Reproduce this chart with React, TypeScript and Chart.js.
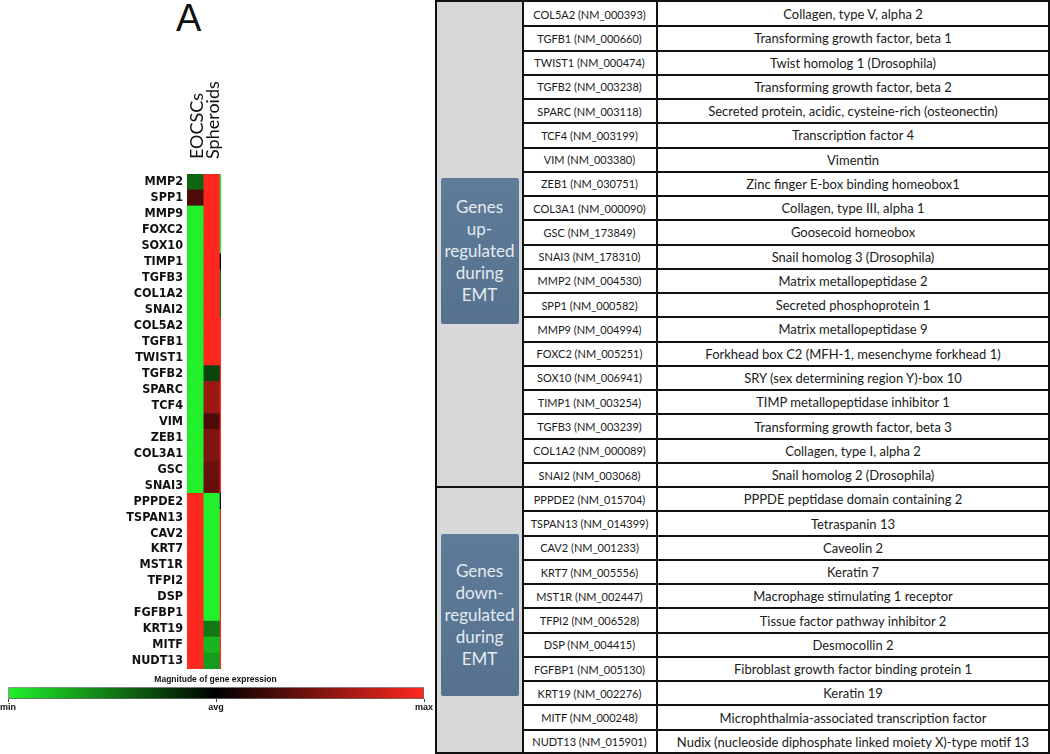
import React, { useEffect, useRef } from 'react';
import { Chart, registerables } from 'chart.js';

Chart.register(...registerables);

// ---------- heatmap data ----------
const heatGenes = [
  'MMP2', 'SPP1', 'MMP9', 'FOXC2', 'SOX10', 'TIMP1', 'TGFB3', 'COL1A2', 'SNAI2',
  'COL5A2', 'TGFB1', 'TWIST1', 'TGFB2', 'SPARC', 'TCF4', 'VIM', 'ZEB1', 'COL3A1', 'GSC', 'SNAI3',
  'PPPDE2', 'TSPAN13', 'CAV2', 'KRT7', 'MST1R', 'TFPI2', 'DSP', 'FGFBP1', 'KRT19', 'MITF', 'NUDT13',
];
// relative expression: -1 = min (green), 0 = avg (black), 1 = max (red)
const eocscsValues = [
  -0.42, 0.3, -1, -1, -1, -1, -1, -1, -1,
  -1, -1, -1, -1, -1, -1, -1, -1, -1, -1, -1,
  1, 1, 1, 1, 1, 1, 1, 1, 1, 1, 1,
];
const spheroidValues = [
  1, 1, 1, 1, 1, 1, 1, 1, 1,
  1, 1, 1, -0.28, 0.6, 0.6, 0.3, 0.5, 0.5, 0.42, 0.4,
  -1, -1, -1, -1, -1, -1, -1, -1, -0.5, -0.75, -0.65,
];
const edgeValues = [
  -1, -1, -1, -1, -1, 0, -0.5, -0.5, -0.5,
  1, 1, 1, 1, 1, 1, 1, 1, 1, 1, 1,
  0, 1, 1, 1, 1, 1, 1, 1, 1, 1, 1,
];
const heatColumns = ['EOCSCs', 'Spheroids'];
const panelLetter = 'A';

// ---------- colour bar ----------
const colorbarTitle = 'Magnitude of gene expression';
const colorbarTickValues = [0, 0.5, 1];
const colorbarTickLabels = ['min', 'avg', 'max'];

// ---------- table data ----------
const tableIds = [
  'COL5A2 (NM_000393)', 'TGFB1 (NM_000660)', 'TWIST1 (NM_000474)', 'TGFB2 (NM_003238)',
  'SPARC (NM_003118)', 'TCF4 (NM_003199)', 'VIM (NM_003380)', 'ZEB1 (NM_030751)',
  'COL3A1 (NM_000090)', 'GSC (NM_173849)', 'SNAI3 (NM_178310)', 'MMP2 (NM_004530)',
  'SPP1 (NM_000582)', 'MMP9 (NM_004994)', 'FOXC2 (NM_005251)', 'SOX10 (NM_006941)',
  'TIMP1 (NM_003254)', 'TGFB3 (NM_003239)', 'COL1A2 (NM_000089)', 'SNAI2 (NM_003068)',
  'PPPDE2 (NM_015704)', 'TSPAN13 (NM_014399)', 'CAV2 (NM_001233)', 'KRT7 (NM_005556)',
  'MST1R (NM_002447)', 'TFPI2 (NM_006528)', 'DSP (NM_004415)', 'FGFBP1 (NM_005130)',
  'KRT19 (NM_002276)', 'MITF (NM_000248)', 'NUDT13 (NM_015901)',
];
const tableDescriptions = [
  'Collagen, type V, alpha 2', 'Transforming growth factor, beta 1', 'Twist homolog 1 (Drosophila)',
  'Transforming growth factor, beta 2', 'Secreted protein, acidic, cysteine-rich (osteonectin)',
  'Transcription factor 4', 'Vimentin', 'Zinc finger E-box binding homeobox1', 'Collagen, type III, alpha 1',
  'Goosecoid homeobox', 'Snail homolog 3 (Drosophila)', 'Matrix metallopeptidase 2', 'Secreted phosphoprotein 1',
  'Matrix metallopeptidase 9', 'Forkhead box C2 (MFH-1, mesenchyme forkhead 1)', 'SRY (sex determining region Y)-box 10',
  'TIMP metallopeptidase inhibitor 1', 'Transforming growth factor, beta 3', 'Collagen, type I, alpha 2',
  'Snail homolog 2 (Drosophila)', 'PPPDE peptidase domain containing 2', 'Tetraspanin 13', 'Caveolin 2',
  'Keratin 7', 'Macrophage stimulating 1 receptor', 'Tissue factor pathway inhibitor 2', 'Desmocollin 2',
  'Fibroblast growth factor binding protein 1', 'Keratin 19', 'Microphthalmia-associated transcription factor',
  'Nudix (nucleoside diphosphate linked moiety X)-type motif 13',
];
const groupLabels = [
  ['Genes', 'up-', 'regulated', 'during', 'EMT'],
  ['Genes', 'down-', 'regulated', 'during', 'EMT'],
];
const groupCounts = [20, 11];

// ---------- helpers ----------
const RED = [255, 40, 30];
const GREEN = [34, 240, 44];
function expressionColor(v: number): string {
  const c = v >= 0 ? RED : GREEN;
  const a = Math.abs(v);
  return `rgb(${Math.round(c[0] * a)},${Math.round(c[1] * a)},${Math.round(c[2] * a)})`;
}

function Heatmap() {
  const ref = useRef<HTMLCanvasElement | null>(null);
  useEffect(() => {
    if (!ref.current) return;
    const spans = [1, 1, 0.1];
    const series = [eocscsValues, spheroidValues, edgeValues];
    const chart = new Chart(ref.current, {
      type: 'bar',
      data: {
        labels: heatGenes,
        datasets: series.map((vals, k) => ({
          label: heatColumns[k] || 'edge',
          data: vals.map(() => spans[k]),
          backgroundColor: vals.map(expressionColor),
          borderWidth: 0,
          barPercentage: 1,
          categoryPercentage: 1,
        })),
      },
      options: {
        indexAxis: 'y',
        animation: false,
        responsive: false,
        events: [],
        layout: { padding: { left: 0, right: 9, top: 0, bottom: 3 } },
        plugins: { legend: { display: false }, tooltip: { enabled: false }, title: { display: false } },
        scales: {
          y: {
            type: 'category',
            stacked: true,
            grid: { display: false, drawTicks: false },
            border: { display: false },
            ticks: {
              autoSkip: false,
              padding: 4,
              color: '#111',
              font: { family: "'DejaVu Sans Condensed', 'DejaVu Sans'", weight: 'bold', size: 12.5 },
            },
            afterFit: (s: any) => { s.width = 187; s.paddingTop = 0; s.paddingBottom = 0; },
          },
          x: {
            type: 'linear',
            stacked: true,
            position: 'top',
            min: 0,
            max: 2.1,
            grid: { display: false, drawTicks: false },
            border: { display: false },
            afterBuildTicks: (s: any) => { s.ticks = [{ value: 0.5 }, { value: 1.5 }]; },
            ticks: {
              minRotation: 90,
              maxRotation: 90,
              padding: 15,
              labelOffset: 24,
              color: '#111',
              font: { family: 'Lato', size: 18 },
              callback: (_v: any, i: number) => heatColumns[i],
            },
            afterFit: (s: any) => { s.height = 174; s.paddingLeft = 0; s.paddingRight = 0; },
          },
        },
      } as any,
    });
    return () => chart.destroy();
  }, []);
  return <canvas ref={ref} width={230} height={672} style={{ position: 'absolute', left: 0, top: 0 }} />;
}

function ColorBar() {
  const ref = useRef<HTMLCanvasElement | null>(null);
  useEffect(() => {
    if (!ref.current) return;
    const chart = new Chart(ref.current, {
      type: 'bar',
      data: {
        labels: [''],
        datasets: [{
          data: [[colorbarTickValues[0], colorbarTickValues[2]]],
          backgroundColor: (ctx: any) => {
            const ca = ctx.chart.chartArea;
            if (!ca) return '#000';
            const g = ctx.chart.ctx.createLinearGradient(ca.left, 0, ca.right, 0);
            g.addColorStop(0, expressionColor(-1));
            g.addColorStop(0.5, expressionColor(0));
            g.addColorStop(1, expressionColor(1));
            return g;
          },
          borderColor: '#666',
          borderWidth: 1,
          borderSkipped: false,
          barPercentage: 1,
          categoryPercentage: 1,
        }],
      },
      options: {
        indexAxis: 'y',
        animation: false,
        responsive: false,
        events: [],
        layout: { padding: { left: 7, right: 12, top: 0, bottom: 0 } },
        plugins: {
          legend: { display: false },
          tooltip: { enabled: false },
          title: {
            display: true,
            text: colorbarTitle,
            color: '#111',
            font: { family: "'Liberation Sans'", weight: 'bold', size: 8.5 },
            padding: { top: 3, bottom: 2 },
          },
        },
        scales: {
          y: { display: false },
          x: {
            type: 'linear',
            min: 0,
            max: 1,
            grid: { display: true, drawOnChartArea: false, drawTicks: true, tickLength: 3, color: '#444' },
            border: { display: false },
            afterBuildTicks: (s: any) => { s.ticks = colorbarTickValues.map((v) => ({ value: v })); },
            ticks: {
              padding: 0,
              color: '#111',
              font: { family: "'Liberation Sans'", weight: 'bold', size: 9 },
              callback: (_v: any, i: number) => colorbarTickLabels[i],
            },
            afterFit: (s: any) => { s.height = 14; },
          },
        },
      } as any,
    });
    return () => chart.destroy();
  }, []);
  return <canvas ref={ref} width={436} height={41} style={{ position: 'absolute', left: 0, top: 672 }} />;
}

function GeneTable() {
  const top = 2;
  const bottom = 754;
  const rowH = (bottom - top) / tableIds.length;
  const black = '#111';
  const els: React.ReactNode[] = [];
  els.push(<div key="gfill" style={{ position: 'absolute', left: 437, top: 2, width: 85, height: 750, background: '#d8d8d8' }} />);
  tableIds.forEach((id, i) => {
    const y = top + i * rowH;
    els.push(
      <div key={'id' + i} style={{ position: 'absolute', left: 523, top: y, width: 133, height: rowH, display: 'flex', alignItems: 'center', justifyContent: 'center', fontFamily: 'Lato', fontSize: 11, color: '#1a1a1a', whiteSpace: 'nowrap' }}>{id}</div>,
      <div key={'d' + i} style={{ position: 'absolute', left: 658, top: y, width: 390, height: rowH, display: 'flex', alignItems: 'center', justifyContent: 'center', fontFamily: 'Lato', fontSize: 13, color: '#1a1a1a', whiteSpace: 'nowrap' }}>{tableDescriptions[i]}</div>,
    );
    if (i > 0) {
      const isGroupBreak = i === groupCounts[0];
      els.push(<div key={'l' + i} style={{ position: 'absolute', left: isGroupBreak ? 437 : 522, top: y - 1, width: isGroupBreak ? 612 : 527, height: 2, background: black }} />);
    }
  });
  const boxStyle = [
    { offset: 6, pad: '18px 0' },
    { offset: -6, pad: '26px 0' },
  ];
  let start = 0;
  groupCounts.forEach((n, g) => {
    const y0 = top + start * rowH + boxStyle[g].offset;
    const h = n * rowH;
    els.push(
      <div key={'g' + g} style={{ position: 'absolute', left: 437, top: y0, width: 85, height: h, display: 'flex', alignItems: 'center', justifyContent: 'center' }}>
        <div style={{ width: 78, padding: boxStyle[g].pad, background: 'linear-gradient(#5e7b99, #56728f)', borderRadius: 2, color: '#e4eaf1', fontFamily: 'Lato', fontSize: 17, lineHeight: '22px', textAlign: 'center' }}>
          {groupLabels[g].map((t, k) => <div key={k}>{t}</div>)}
        </div>
      </div>,
    );
    start += n;
  });
  els.push(
    <div key="fl" style={{ position: 'absolute', left: 435, top: 0, width: 2, height: 754, background: black }} />,
    <div key="ft" style={{ position: 'absolute', left: 435, top: 0, width: 615, height: 2, background: black }} />,
    <div key="fb" style={{ position: 'absolute', left: 435, top: 752, width: 615, height: 2, background: black }} />,
    <div key="fr" style={{ position: 'absolute', left: 1048, top: 0, width: 2, height: 754, background: black }} />,
    <div key="gc" style={{ position: 'absolute', left: 522, top: 0, width: 1.5, height: 754, background: black }} />,
    <div key="dc" style={{ position: 'absolute', left: 656, top: 0, width: 2, height: 754, background: black }} />,
  );
  return <>{els}</>;
}

export default function App() {
  return (
    <div style={{ position: 'absolute', left: 0, top: 0, width: 1050, height: 754, background: '#fff', overflow: 'hidden' }}>
      <div style={{ position: 'absolute', left: 176, top: -4, fontFamily: "'Liberation Sans'", fontSize: 38, color: '#111', lineHeight: '44px' }}>{panelLetter}</div>
      <Heatmap />
      <ColorBar />
      <GeneTable />
    </div>
  );
}
